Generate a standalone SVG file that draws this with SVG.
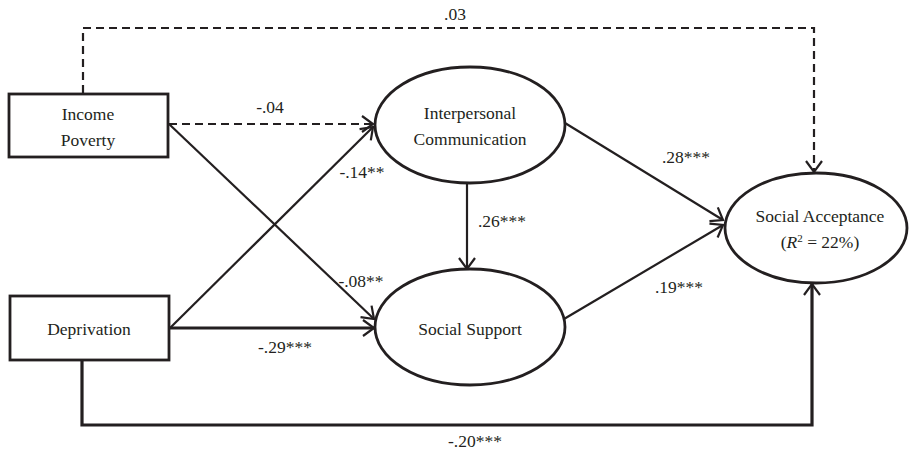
<svg xmlns="http://www.w3.org/2000/svg" width="912" height="453" viewBox="0 0 912 453">
<style>
.node{fill:#fff;stroke:#231f20;stroke-width:2.8}
.t{font-family:"Liberation Serif","Times New Roman",serif;font-size:17.5px;fill:#231f20;text-anchor:middle}
.c{fill:none;stroke:#231f20;stroke-width:2.2}
.d{stroke-dasharray:8,5}
.k{stroke-width:3.2}
</style>
<defs>
<marker id="ah" markerUnits="userSpaceOnUse" markerWidth="14" markerHeight="18" refX="11" refY="8" orient="auto" overflow="visible">
<path d="M0,0 L11,8 L0,16" fill="none" stroke="#231f20" stroke-width="2.2"/>
</marker>
</defs>
<g id="connectors">
<path class="c d" d="M83,93 V28 H814 V172" marker-end="url(#ah)"/>
<path class="c d" d="M169,124 H373" marker-end="url(#ah)"/>
<path class="c" d="M169,124 L374,319" marker-end="url(#ah)"/>
<path class="c" d="M170,328 L373,127" marker-end="url(#ah)"/>
<path class="c k" d="M170,328 H374" marker-end="url(#ah)"/>
<path class="c k" d="M82,360 V425 H812 V284" marker-end="url(#ah)"/>
<path class="c" d="M467,183 V269" marker-end="url(#ah)"/>
<path class="c" d="M565,123 L723,220" marker-end="url(#ah)"/>
<path class="c" d="M564,319 L723,225" marker-end="url(#ah)"/>
<text class="t" x="455" y="20">.03</text>
<text class="t" x="270" y="113">-.04</text>
<text class="t" x="362" y="178">-.14**</text>
<text class="t" x="361" y="287">-.08**</text>
<text class="t" x="285" y="353">-.29***</text>
<text class="t" x="686" y="163">.28***</text>
<text class="t" x="502" y="227">.26***</text>
<text class="t" x="679" y="293">.19***</text>
<text class="t" x="475" y="447">-.20***</text>
</g>
<g id="income-poverty">
<rect class="node" x="9" y="94" width="159" height="63"/>
<text class="t" x="88" y="120">Income</text>
<text class="t" x="88" y="146">Poverty</text>
</g>
<g id="deprivation">
<rect class="node" x="10" y="296" width="159" height="64"/>
<text class="t" x="89" y="335">Deprivation</text>
</g>
<g id="interpersonal-communication">
<ellipse class="node" cx="470" cy="125" rx="95" ry="58"/>
<text class="t" x="470" y="119">Interpersonal</text>
<text class="t" x="470" y="145">Communication</text>
</g>
<g id="social-support">
<ellipse class="node" cx="470" cy="327" rx="95" ry="58"/>
<text class="t" x="470" y="335">Social Support</text>
</g>
<g id="social-acceptance">
<ellipse class="node" cx="816" cy="228" rx="91" ry="55"/>
<text class="t" x="820" y="222">Social Acceptance</text>
<text class="t" x="820" y="248">(<tspan font-style="italic">R</tspan><tspan font-size="11" dy="-6">2</tspan><tspan dy="6"> = 22%)</tspan></text>
</g>
</svg>
